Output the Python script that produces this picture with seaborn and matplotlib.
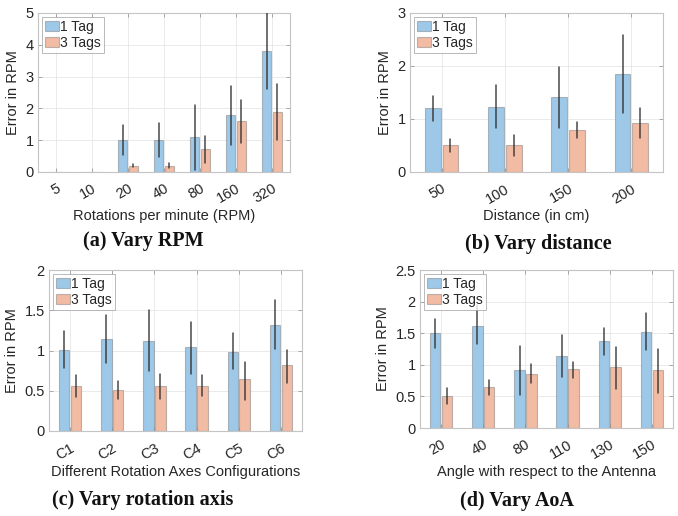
import numpy as np
import pandas as pd
import matplotlib
matplotlib.use("Agg")
import matplotlib.pyplot as plt
import seaborn as sns

# ---------------- data ----------------
series_names = ["1 Tag", "3 Tags"]

a_cats = ["5", "10", "20", "40", "80", "160", "320"]
a_one = [0, 0, 1.0, 1.0, 1.1, 1.8, 3.8]
a_one_lo = [0, 0, 0.52, 0.47, 0.05, 0.85, 2.6]
a_one_hi = [0, 0, 1.48, 1.53, 2.12, 2.72, 5.2]
a_three = [0, 0, 0.2, 0.2, 0.72, 1.6, 1.9]
a_three_lo = [0, 0, 0.15, 0.13, 0.27, 0.9, 1.0]
a_three_hi = [0, 0, 0.25, 0.28, 1.12, 2.25, 2.78]

b_cats = ["50", "100", "150", "200"]
b_one = [1.21, 1.23, 1.415, 1.84]
b_one_lo = [0.97, 0.83, 0.83, 1.11]
b_one_hi = [1.44, 1.65, 1.99, 2.58]
b_three = [0.51, 0.51, 0.80, 0.92]
b_three_lo = [0.38, 0.30, 0.64, 0.64]
b_three_hi = [0.63, 0.70, 0.95, 1.21]

c_cats = ["C1", "C2", "C3", "C4", "C5", "C6"]
c_one = [1.01, 1.14, 1.12, 1.04, 0.985, 1.32]
c_one_lo = [0.78, 0.84, 0.74, 0.71, 0.77, 1.02]
c_one_hi = [1.24, 1.44, 1.50, 1.36, 1.22, 1.63]
c_three = [0.56, 0.51, 0.56, 0.565, 0.64, 0.82]
c_three_lo = [0.42, 0.395, 0.40, 0.43, 0.39, 0.60]
c_three_hi = [0.70, 0.62, 0.71, 0.70, 0.86, 1.01]

d_cats = ["20", "40", "80", "110", "130", "150"]
d_one = [1.505, 1.62, 0.92, 1.14, 1.38, 1.52]
d_one_lo = [1.26, 1.33, 0.52, 0.81, 1.15, 1.24]
d_one_hi = [1.72, 1.94, 1.30, 1.47, 1.59, 1.82]
d_three = [0.50, 0.65, 0.86, 0.94, 0.97, 0.92]
d_three_lo = [0.38, 0.53, 0.71, 0.79, 0.62, 0.55]
d_three_hi = [0.64, 0.76, 1.01, 1.05, 1.28, 1.25]

panels = [
    dict(cats=a_cats, one=a_one, one_lo=a_one_lo, one_hi=a_one_hi,
         three=a_three, three_lo=a_three_lo, three_hi=a_three_hi,
         ylim=(0, 5), yticks=[0, 1, 2, 3, 4, 5], yticklabels=["0", "1", "2", "3", "4", "5"],
         xlabel="Rotations per minute (RPM)", caption="(a) Vary RPM",
         rect=[38/678, 1-172/516, 252/678, 159/516], cap_xy=(143/678, 1-241/516)),
    dict(cats=b_cats, one=b_one, one_lo=b_one_lo, one_hi=b_one_hi,
         three=b_three, three_lo=b_three_lo, three_hi=b_three_hi,
         ylim=(0, 3), yticks=[0, 1, 2, 3], yticklabels=["0", "1", "2", "3"],
         xlabel="Distance (in cm)", caption="(b) Vary distance",
         rect=[410/678, 1-172/516, 253/678, 159/516], cap_xy=(538/678, 1-244/516)),
    dict(cats=c_cats, one=c_one, one_lo=c_one_lo, one_hi=c_one_hi,
         three=c_three, three_lo=c_three_lo, three_hi=c_three_hi,
         ylim=(0, 2), yticks=[0, 0.5, 1, 1.5, 2], yticklabels=["0", "0.5", "1", "1.5", "2"],
         xlabel="Different Rotation Axes Configurations", caption="(c) Vary rotation axis",
         rect=[49/678, 1-431/516, 253/678, 161/516], cap_xy=(143/678, 1-500/516)),
    dict(cats=d_cats, one=d_one, one_lo=d_one_lo, one_hi=d_one_hi,
         three=d_three, three_lo=d_three_lo, three_hi=d_three_hi,
         ylim=(0, 2.5), yticks=[0, 0.5, 1, 1.5, 2, 2.5], yticklabels=["0", "0.5", "1", "1.5", "2", "2.5"],
         xlabel="Angle with respect to the Antenna", caption="(d) Vary AoA",
         rect=[420/678, 1-428/516, 253/678, 158/516], cap_xy=(517/678, 1-501/516)),
]

# ---------------- style ----------------
sns.set_theme(style="white")
plt.rcParams["font.family"] = ["Liberation Sans", "DejaVu Sans"]
plt.rcParams["xtick.direction"] = "in"
plt.rcParams["ytick.direction"] = "in"

blue = "#9DC8E8"
orange = "#F2BBA3"
palette = {"1 Tag": blue, "3 Tags": orange}

fig = plt.figure(figsize=(6.78, 5.16), dpi=100)

for p in panels:
    ax = fig.add_axes(p["rect"])
    n = len(p["cats"])
    df = pd.DataFrame({
        "cat": p["cats"] * 2,
        "series": [series_names[0]] * n + [series_names[1]] * n,
        "val": list(p["one"]) + list(p["three"]),
    })
    sns.barplot(data=df, x="cat", y="val", hue="series", order=p["cats"],
                hue_order=series_names, palette=palette, saturation=1,
                width=0.56, gap=0.1, errorbar=None,
                edgecolor=(0.45, 0.45, 0.45, 0.45), linewidth=0.8,
                ax=ax, zorder=2)
    lows = [p["one_lo"], p["three_lo"]]
    highs = [p["one_hi"], p["three_hi"]]
    vals = [p["one"], p["three"]]
    for k, cont in enumerate(ax.containers):
        for i, bar in enumerate(cont.patches):
            if vals[k][i] == 0:
                continue
            xc = bar.get_x() + bar.get_width() / 2
            ax.plot([xc, xc], [lows[k][i], highs[k][i]], color="#2a2a2a",
                    lw=1.1, alpha=0.85, zorder=3, clip_on=True)
    ax.set_xlim(-0.5, n - 0.5)
    ax.set_ylim(*p["ylim"])
    ax.set_yticks(p["yticks"])
    ax.set_yticklabels(p["yticklabels"], fontsize=10.5, color="#262626")
    ax.set_xticks(range(n))
    ax.set_xticklabels(p["cats"], rotation=30, ha="right", rotation_mode="anchor",
                       fontsize=10.5, color="#262626")
    ax.tick_params(axis="both", which="both", direction="in", length=3, width=0.6,
                   color="#999999", top=True, right=True, bottom=True, left=True, pad=3)
    ax.tick_params(axis="x", pad=7)
    ax.grid(True, color="#e6e6e6", lw=0.6, zorder=0)
    ax.set_axisbelow(True)
    for s in ax.spines.values():
        s.set_color("#c4c4c4")
        s.set_linewidth(0.8)
        s.set_visible(True)
    ax.set_xlabel(p["xlabel"], fontsize=10.5, color="#262626", labelpad=2)
    ax.set_ylabel("Error in RPM", fontsize=10.5, color="#262626", labelpad=4)
    handles, labels = ax.get_legend_handles_labels()
    if ax.get_legend() is not None:
        ax.get_legend().remove()
    leg = ax.legend(handles, labels, loc="upper left", fontsize=10, frameon=True,
                    fancybox=False, edgecolor="#9a9a9a", handlelength=1.0,
                    handleheight=0.7, handletextpad=0.1, borderpad=0.2,
                    labelspacing=0.15, borderaxespad=0.3)
    leg.get_frame().set_linewidth(0.6)
    fig.text(p["cap_xy"][0], p["cap_xy"][1], p["caption"], ha="center", va="center",
             fontsize=14.5, fontweight="bold", family=["Liberation Serif", "DejaVu Serif"],
             color="#111111")

fig.savefig("out.png", dpi=100, facecolor="white")
